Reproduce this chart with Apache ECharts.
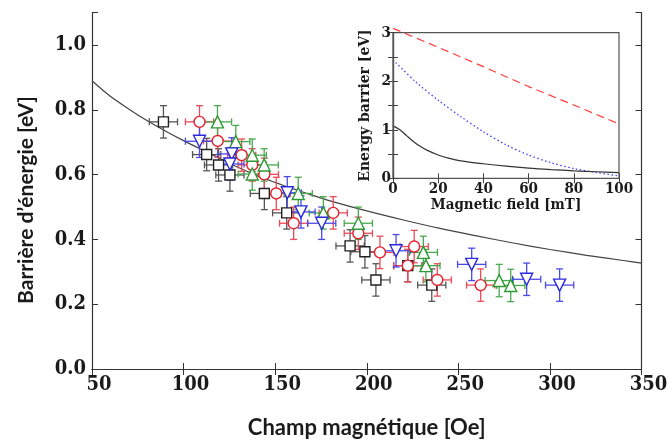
<!DOCTYPE html>
<html><head><meta charset="utf-8">
<script src="https://cdn.jsdelivr.net/npm/echarts@6/dist/echarts.min.js"></script>
<style>html,body{margin:0;padding:0;background:#fff}#c{width:670px;height:444px}</style>
</head><body><div id="c"></div>
<script>
// ---- main plot data (Oe, eV) ----
const blackX = [89.0,112.6,119.1,125.3,144.1,156.3,190.9,199.0,205.0,222.4,235.5];
const blackY = [0.763,0.662,0.630,0.599,0.542,0.482,0.380,0.362,0.275,0.319,0.259];
const redX = [108.7,118.6,131.7,137.5,144.1,150.6,160.1,181.7,195.4,207.2,225.9,222.4,238.5,262.2];
const redY = [0.763,0.704,0.660,0.630,0.601,0.542,0.450,0.482,0.419,0.360,0.378,0.319,0.275,0.259];
const greenX = [118.5,128.5,137.5,144.0,137.5,162.6,176.3,195.4,230.9,232.3,272.3,278.6];
const greenY = [0.763,0.702,0.660,0.630,0.602,0.542,0.482,0.450,0.360,0.319,0.273,0.258];
const blueX = [108.7,126.3,125.3,156.6,164.1,175.4,216.0,257.3,287.3,305.3];
const blueY = [0.703,0.664,0.633,0.544,0.485,0.450,0.365,0.323,0.277,0.259];
const errX = 7.7;   // Oe
const errY = 0.05;  // eV
// fitted curve
const curveX = [50,60,70,80,90,100,110,120,130,140,150,160,170,180,200,220,240,260,280,300,320,340,350];
const curveY = [0.890,0.842,0.803,0.767,0.735,0.705,0.677,0.650,0.622,0.597,0.576,0.556,0.537,0.519,0.488,0.460,0.434,0.411,0.389,0.369,0.351,0.335,0.327];
// ---- inset data (mT, eV) ----
const insBlackX = [0,3,6,9,12,15,20,25,30,40,50,60,70,80,90,100];
const insBlackY = [1.08,1.00,0.88,0.76,0.66,0.58,0.48,0.41,0.36,0.30,0.25,0.21,0.18,0.155,0.135,0.117];
const insBlueX = [0,10,20,30,40,50,60,70,80,90,100];
const insBlueY = [2.44,1.99,1.61,1.27,0.96,0.69,0.48,0.32,0.20,0.12,0.05];
const insRedX = [0,20,40,60,80,100];
const insRedY = [3.09,2.70,2.30,1.89,1.51,1.12];
// tick labels
const mainXTicks = {min:50, max:350, interval:50};
const mainYTicks = {min:0, max:1.1, interval:0.2};
const insXTicks = {min:0, max:100, interval:20};
const insYTicks = {min:0, max:3, interval:0.5};
const yTitle = 'Barrière d’énergie [eV]';

const zip = (a,b)=>a.map((v,i)=>[v,b[i]]);
const withErr = (a,b)=>a.map((v,i)=>[v,b[i],errX,errY]);

function errRender(color){
  return function(params, api){
    const x=api.value(0), y=api.value(1), ex=api.value(2), ey=api.value(3);
    const L=api.coord([x-ex,y]), R=api.coord([x+ex,y]), T=api.coord([x,y+ey]), B=api.coord([x,y-ey]);
    const c=3.5;
    const st={stroke:color, lineWidth:1.3, fill:null};
    const ln=(x1,y1,x2,y2)=>({type:'line', shape:{x1,y1,x2,y2}, style:st});
    return {type:'group', children:[
      ln(L[0],L[1],R[0],R[1]), ln(T[0],T[1],B[0],B[1]),
      ln(L[0],L[1]-c,L[0],L[1]+c), ln(R[0],R[1]-c,R[0],R[1]+c),
      ln(T[0]-c,T[1],T[0]+c,T[1]), ln(B[0]-c,B[1],B[0]+c,B[1])
    ]};
  };
}
const cols = {black:'#222222', red:'#e3202c', green:'#2e9a36', blue:'#2a2ae0'};
const barCols = {black:'#555555', red:'#ec4a58', green:'#4aa84f', blue:'#4a4ae8'};

const serifFam = "'DejaVu Serif Condensed','DejaVu Serif',serif";
const mainLbl = {fontFamily:serifFam, fontWeight:'bold', fontSize:20, color:'#1a1a1a'};
const insLbl = {fontFamily:serifFam, fontWeight:'bold', fontSize:15, color:'#1a1a1a'};
const axLine = {show:true, lineStyle:{color:'#333', width:1.2}};

function errSeries(name, X, Y){
  return {type:'custom', xAxisIndex:0, yAxisIndex:0, renderItem:errRender(barCols[name]),
    data:withErr(X,Y), encode:{x:0,y:1}, z:2, silent:true, animation:false};
}
function markSeries(name, X, Y, symbol, size, rot){
  return {type:'scatter', xAxisIndex:0, yAxisIndex:0, data:zip(X,Y), symbol, symbolSize:size,
    symbolRotate:rot||0, z:3, silent:true, animation:false,
    itemStyle:{color:'#fff', borderColor:cols[name], borderWidth:1.4, opacity:1}};
}

const chart = echarts.init(document.getElementById('c'), null, {renderer:'canvas'});
chart.setOption({
  animation:false,
  backgroundColor:'#fff',
  graphic:[
    {type:'text', x:26, y:200, rotation:Math.PI/2, silent:true,
     style:{text:yTitle, font:"bold 21px Lato, 'Open Sans', sans-serif", fill:'#1a1a1a',
            textAlign:'center', textVerticalAlign:'middle', align:'center', verticalAlign:'middle'}}
  ],
  grid:[
    {left:92, right:28.5, top:12.7, bottom:75, containLabel:false, outerBoundsMode:'none'},
    {left:393, top:32.7, width:226, height:145.6, containLabel:false, outerBoundsMode:'none',
     show:true, backgroundColor:'#fff', borderColor:'#555', borderWidth:1.2, z:10}
  ],
  xAxis:[
    {gridIndex:0, type:'value', position:'bottom', ...mainXTicks, axisLine:axLine,
     axisTick:{show:true, inside:true, length:6, lineStyle:{color:'#333'}},
     axisLabel:{...mainLbl, margin:6, padding:[0,0,0,14]}, splitLine:{show:false},
     name:'Champ magnétique [Oe]', nameLocation:'middle', nameGap:48,
     nameTextStyle:{fontFamily:"Lato,'Open Sans',sans-serif", fontWeight:'bold', fontSize:22, color:'#1a1a1a'}},
    {gridIndex:0, type:'value', position:'top', ...mainXTicks, axisLine:axLine,
     axisTick:{show:true, inside:true, length:6, lineStyle:{color:'#333'}},
     axisLabel:{show:false}, splitLine:{show:false}},
    {gridIndex:1, type:'value', position:'bottom', ...insXTicks, axisLine:{show:true, lineStyle:{color:'#555', width:1.2}},
     axisTick:{show:true, inside:true, length:5, lineStyle:{color:'#444'}},
     axisLabel:{...insLbl, margin:3}, splitLine:{show:false}, z:12,
     name:'Magnetic field [mT]', nameLocation:'middle', nameGap:19,
     nameTextStyle:{fontFamily:serifFam, fontWeight:'bold', fontSize:15, color:'#1a1a1a'}},
    {gridIndex:1, type:'value', position:'top', ...insXTicks, axisLine:{show:true, lineStyle:{color:'#555', width:1.2}},
     axisTick:{show:true, inside:true, length:5, lineStyle:{color:'#444'}},
     axisLabel:{show:false}, splitLine:{show:false}, z:12}
  ],
  yAxis:[
    {gridIndex:0, type:'value', position:'left', ...mainYTicks, axisLine:axLine,
     axisTick:{show:true, inside:true, length:6, lineStyle:{color:'#333'}},
     axisLabel:{...mainLbl, margin:6, formatter:v=> v>1.05 ? '' : v.toFixed(1)}, splitLine:{show:false}},
    {gridIndex:0, type:'value', position:'right', ...mainYTicks, axisLine:axLine,
     axisTick:{show:true, inside:true, length:6, lineStyle:{color:'#333'}},
     axisLabel:{show:false}, splitLine:{show:false}},
    {gridIndex:1, type:'value', position:'left', ...insYTicks, axisLine:{show:true, lineStyle:{color:'#555', width:1.2}},
     axisTick:{show:true, inside:true, length:5, lineStyle:{color:'#444'}},
     axisLabel:{...insLbl, margin:2, formatter:v=> Number.isInteger(v) ? String(v) : ''}, splitLine:{show:false}, z:12,
     name:'Energy barrier [eV]', nameLocation:'middle', nameGap:20,
     nameTextStyle:{fontFamily:serifFam, fontWeight:'bold', fontSize:15.5, color:'#1a1a1a'}},
    {gridIndex:1, type:'value', position:'right', ...insYTicks, axisLine:{show:true, lineStyle:{color:'#555', width:1.2}},
     axisTick:{show:true, inside:true, length:5, lineStyle:{color:'#444'}},
     axisLabel:{show:false}, splitLine:{show:false}, z:12}
  ],
  series:[
    {type:'line', xAxisIndex:0, yAxisIndex:0, data:zip(curveX,curveY), smooth:0.3, showSymbol:false,
     lineStyle:{color:'#444', width:1.2}, z:1, silent:true},
    errSeries('black', blackX, blackY),
    errSeries('red', redX, redY),
    errSeries('green', greenX, greenY),
    errSeries('blue', blueX, blueY),
    markSeries('black', blackX, blackY, 'rect', 10),
    markSeries('red', redX, redY, 'circle', 11),
    markSeries('green', greenX, greenY, 'triangle', 12),
    markSeries('blue', blueX, blueY, 'triangle', 12, 180),
    {type:'line', xAxisIndex:2, yAxisIndex:2, data:zip(insRedX,insRedY), showSymbol:false, clip:false,
     lineStyle:{color:'#ff3a3a', width:1.2, type:[8,5]}, z:11, silent:true},
    {type:'line', xAxisIndex:2, yAxisIndex:2, data:zip(insBlueX,insBlueY), smooth:0.3, showSymbol:false,
     lineStyle:{color:'#4040ff', width:1.3, type:[1.5,2.5]}, z:11, silent:true},
    {type:'line', xAxisIndex:2, yAxisIndex:2, data:zip(insBlackX,insBlackY), smooth:0.3, showSymbol:false,
     lineStyle:{color:'#333', width:1.2}, z:11, silent:true}
  ]
});
</script></body></html>
